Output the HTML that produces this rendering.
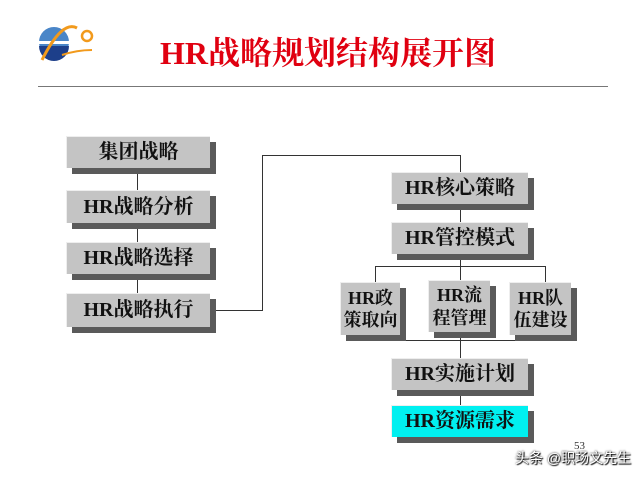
<!DOCTYPE html>
<html><head><meta charset="utf-8"><style>
body{margin:0;width:640px;height:480px;background:#fff;position:relative;overflow:hidden;font-family:"Liberation Serif","Noto Serif CJK SC",serif}
.b{position:absolute;background:#c4c4c4;box-shadow:6px 6px 0 #5a5a5a;border-top:1px solid #eee;border-left:1px solid #eee;display:flex;align-items:center;justify-content:center;font-weight:bold;font-size:20px;color:#111;text-align:center;line-height:1.25;box-sizing:border-box}
.s{font-size:18px}
.l{position:absolute;background:#333}
</style></head><body>
<svg style="position:absolute;left:32px;top:20px" width="70" height="60">
<circle cx="22" cy="22" r="15" fill="#4a86c8"/>
<path d="M7 26 A15 15 0 0 0 37 26 Z" fill="#1d3f8a"/>
<rect x="7" y="21" width="30" height="3" fill="#fff"/>
<path d="M10 40 Q30 0 45 8" stroke="#f29a1c" stroke-width="3" fill="none"/>
<circle cx="55" cy="16" r="5" stroke="#f29a1c" stroke-width="2.5" fill="none"/>
<path d="M30 35 Q45 30 60 30" stroke="#f29a1c" stroke-width="2" fill="none"/>
</svg>
<div style="position:absolute;left:160px;top:28px;font-size:32px;font-weight:bold;color:#e00010">HR战略规划结构展开图</div>
<div class="l" style="left:38px;top:86px;width:570px;height:1px;background:#777"></div>

<div class="l" style="left:137px;top:168px;width:1px;height:125px"></div>
<div class="b" style="left:66px;top:136px;width:144px;height:32px">集团战略</div>
<div class="b" style="left:66px;top:190px;width:144px;height:33px">HR战略分析</div>
<div class="b" style="left:66px;top:242px;width:144px;height:32px">HR战略选择</div>
<div class="b" style="left:66px;top:293px;width:144px;height:34px">HR战略执行</div>

<div class="l" style="left:216px;top:310px;width:46px;height:1px"></div>
<div class="l" style="left:262px;top:155px;width:1px;height:156px"></div>
<div class="l" style="left:262px;top:155px;width:198px;height:1px"></div>
<div class="l" style="left:460px;top:155px;width:1px;height:250px"></div>
<div class="l" style="left:375px;top:266px;width:170px;height:1px"></div>
<div class="l" style="left:375px;top:266px;width:1px;height:16px"></div>
<div class="l" style="left:545px;top:266px;width:1px;height:16px"></div>
<div class="l" style="left:375px;top:340px;width:170px;height:1px"></div>
<div class="l" style="left:375px;top:335px;width:1px;height:5px"></div>
<div class="l" style="left:545px;top:335px;width:1px;height:5px"></div>

<div class="b" style="left:391px;top:172px;width:137px;height:32px">HR核心策略</div>
<div class="b" style="left:391px;top:222px;width:137px;height:32px">HR管控模式</div>
<div class="b s" style="left:340px;top:282px;width:60px;height:53px">HR政<br>策取向</div>
<div class="b s" style="left:428px;top:280px;width:62px;height:52px">HR流<br>程管理</div>
<div class="b s" style="left:509px;top:282px;width:62px;height:53px">HR队<br>伍建设</div>
<div class="b" style="left:391px;top:358px;width:137px;height:32px">HR实施计划</div>
<div class="b" style="left:391px;top:405px;width:137px;height:32px;background:#00f0f0">HR资源需求</div>

<div style="position:absolute;left:574px;top:440px;font-size:11px;color:#333">53</div>
<div style="position:absolute;left:515px;top:448px;font-size:14px;color:#fff;text-shadow:0 0 2px #000,1px 1px 1px #000;font-family:'Liberation Sans','Noto Sans CJK SC',sans-serif">头条 @职场文先生</div>
</body></html>
